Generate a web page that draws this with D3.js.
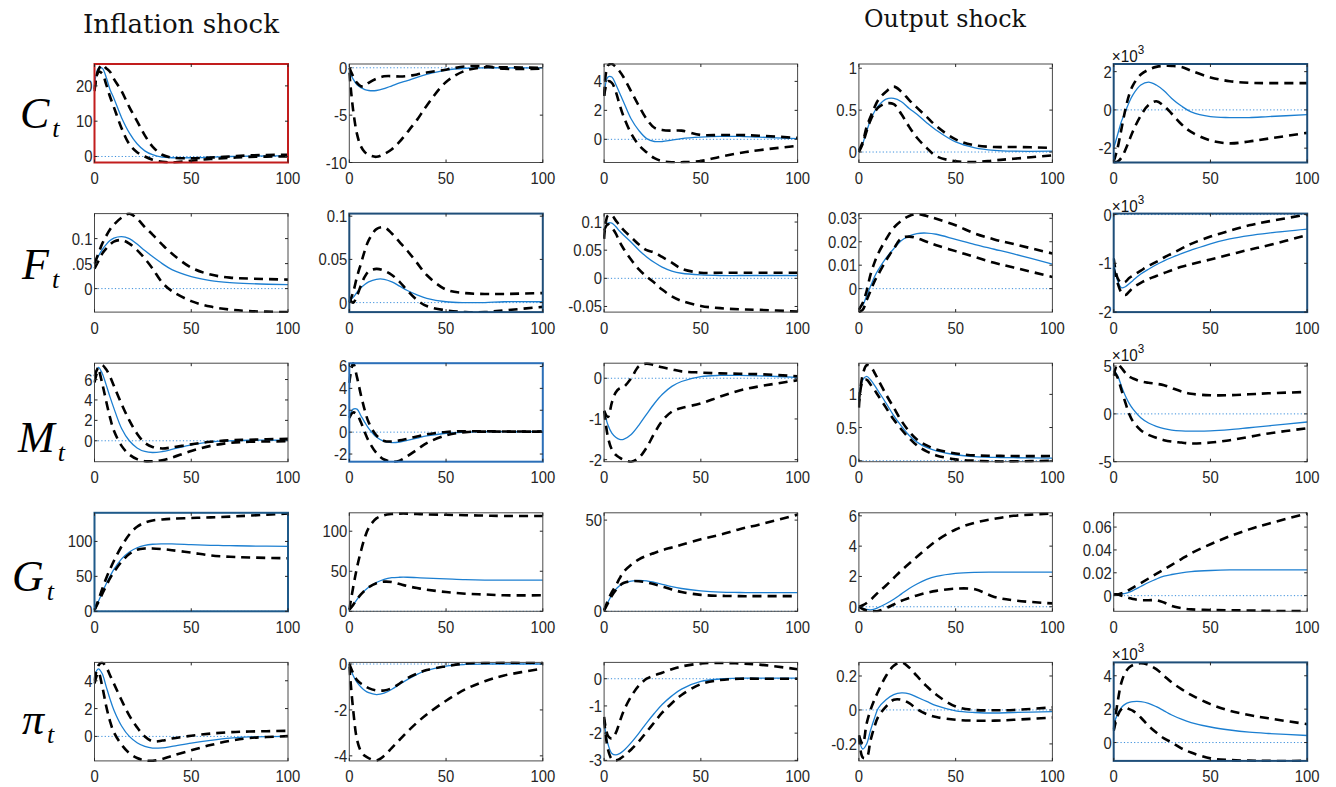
<!DOCTYPE html>
<html><head><meta charset="utf-8">
<script src="https://cdn.jsdelivr.net/npm/d3@7"></script>
<style>body{margin:0;background:#fff;} svg{display:block;}</style>
</head><body>
<svg id="chart" width="1336" height="787"></svg>
<script>
// ---------------- DATA ----------------
const X = [0,2,4,6,8,10,14,18,22,26,30,35,40,50,60,70,80,100];
const xTicks = [0, 50, 100];
const shockTitles = ["Inflation shock", "Output shock"];
const rowNames = ["C", "F", "M", "G", "π"];

const C_mid = [
 [20,25,25,22.5,19,16.5,11,6.7,3.6,1.6,0.5,-0.2,-0.35,-0.35,-0.2,0,0.1,0.2],
 [-0.3,-1.2,-1.8,-2.1,-2.3,-2.4,-2.4,-2.2,-1.9,-1.6,-1.35,-1.0,-0.7,-0.25,-0.05,0,0,0],
 [3,4.3,4.3,3.8,3.2,2.6,1.4,0.6,0.05,-0.15,-0.15,-0.05,0.05,0.15,0.2,0.2,0.15,0.05],
 [0,0.1,0.25,0.38,0.48,0.55,0.63,0.64,0.6,0.52,0.45,0.35,0.26,0.12,0.05,0.02,0.01,0.01],
 [-2.0,-1.3,-0.6,-0.1,0.4,0.8,1.3,1.45,1.3,1.0,0.6,0.2,-0.1,-0.35,-0.4,-0.4,-0.35,-0.25]
];
const C_hi = [
 [19,24.5,26,25,24,22,18.5,14,10,6,2.8,0.5,-0.3,-0.5,-0.3,0,0.3,0.5],
 [0,-0.9,-1.6,-1.95,-1.9,-1.6,-1.15,-0.9,-0.88,-0.92,-0.88,-0.7,-0.5,-0.2,0.15,0.15,-0.1,-0.1],
 [3,5.1,5.2,5.0,4.7,4.3,3.3,2.3,1.4,0.8,0.65,0.6,0.6,0.3,0.3,0.3,0.25,0.1],
 [0.02,0.12,0.3,0.42,0.53,0.62,0.72,0.78,0.72,0.62,0.53,0.42,0.31,0.15,0.08,0.06,0.06,0.05],
 [-2.7,-2.0,-1.0,0.0,0.8,1.3,1.85,2.1,2.25,2.3,2.3,2.25,2.05,1.7,1.5,1.42,1.4,1.4]
];
const C_lo = [
 [18.5,24,23.5,20.5,17,14,8,3.5,1.2,0,-0.9,-1.5,-1.7,-1.2,-0.7,-0.4,-0.1,0],
 [-0.5,-4.5,-7,-8.3,-8.9,-9.2,-9.4,-9.1,-8.6,-7.8,-6.8,-5.5,-4.0,-1.5,-0.3,0.05,0.05,0],
 [3,4.0,3.9,3.3,2.4,1.6,0.4,-0.4,-0.9,-1.3,-1.5,-1.58,-1.58,-1.5,-1.2,-0.95,-0.75,-0.45],
 [0,0.1,0.25,0.38,0.47,0.53,0.58,0.57,0.45,0.3,0.17,0.05,-0.05,-0.11,-0.12,-0.1,-0.08,-0.04],
 [-2.75,-2.7,-2.5,-2.1,-1.6,-1.1,-0.3,0.25,0.45,0.2,-0.2,-0.75,-1.15,-1.6,-1.75,-1.65,-1.5,-1.2]
];
const C_dom = [[-1.7,26.2],[-10,0.4],[-1.6,5.2],[-0.125,1.05],[-2.75,2.4]];
const C_ticks = [["0","10","20"],["-10","-5","0"],["0","2","4"],["0","0.5","1"],["-2","0","2"]];

const F_mid = [
 [0.05,0.065,0.078,0.088,0.096,0.101,0.104,0.1,0.089,0.076,0.064,0.05,0.038,0.024,0.016,0.012,0.01,0.008],
 [0.002,0.006,0.012,0.017,0.021,0.024,0.027,0.027,0.024,0.019,0.014,0.009,0.005,0.001,0,0,0.001,0.001],
 [0.085,0.098,0.098,0.092,0.084,0.077,0.064,0.05,0.038,0.028,0.02,0.013,0.009,0.006,0.005,0.005,0.005,0.005],
 [-0.008,-0.007,-0.003,0.001,0.005,0.008,0.013,0.017,0.0205,0.0225,0.0235,0.0237,0.0232,0.021,0.0188,0.0168,0.0148,0.0105],
 [-1.0,-1.35,-1.5,-1.48,-1.42,-1.35,-1.22,-1.12,-1.03,-0.95,-0.88,-0.8,-0.73,-0.6,-0.5,-0.43,-0.38,-0.3]
];
const F_hi = [
 [0.05,0.07,0.09,0.105,0.118,0.128,0.142,0.15,0.14,0.123,0.108,0.088,0.07,0.042,0.028,0.022,0.02,0.018],
 [0,0.012,0.03,0.045,0.06,0.072,0.085,0.087,0.08,0.07,0.06,0.046,0.032,0.015,0.011,0.01,0.01,0.011],
 [0.07,0.112,0.112,0.103,0.094,0.086,0.073,0.06,0.05,0.046,0.038,0.028,0.017,0.01,0.01,0.01,0.01,0.01],
 [-0.009,-0.006,-0.001,0.006,0.011,0.015,0.021,0.026,0.029,0.031,0.0318,0.031,0.0298,0.027,0.0235,0.021,0.019,0.015],
 [-0.9,-1.3,-1.4,-1.38,-1.3,-1.25,-1.15,-1.05,-0.97,-0.88,-0.8,-0.7,-0.6,-0.45,-0.33,-0.22,-0.14,0.0]
];
const F_lo = [
 [0.04,0.055,0.07,0.08,0.088,0.094,0.097,0.09,0.077,0.06,0.04,0.012,-0.005,-0.025,-0.036,-0.042,-0.045,-0.047],
 [0.004,0.0,0.008,0.02,0.03,0.036,0.039,0.037,0.032,0.024,0.014,0.003,-0.004,-0.009,-0.011,-0.011,-0.009,-0.005],
 [0.085,0.096,0.09,0.08,0.065,0.053,0.033,0.016,0.003,-0.008,-0.02,-0.032,-0.04,-0.049,-0.053,-0.055,-0.056,-0.059],
 [-0.01,-0.009,-0.005,-0.001,0.003,0.006,0.012,0.017,0.0215,0.0222,0.0215,0.02,0.0185,0.016,0.0135,0.011,0.009,0.005],
 [-1.1,-1.4,-1.6,-1.65,-1.58,-1.5,-1.4,-1.32,-1.26,-1.2,-1.14,-1.07,-1.02,-0.92,-0.82,-0.72,-0.63,-0.42]
];
const F_dom = [[-0.047,0.15],[-0.011,0.103],[-0.06,0.115],[-0.01,0.032],[-2,0.02]];
const F_ticks = [["0",".05","0.1"],["0","0.05","0.1"],["-0.05","0","0.05","0.1"],["0","0.01","0.02","0.03"],["-2","-1","0"]];

const M_mid = [
 [6.3,7.2,6.6,5.5,4.3,3.2,1.2,0.0,-0.7,-1.05,-1.15,-1.05,-0.85,-0.4,-0.1,0.0,0.05,0.05],
 [1.4,2.1,2.1,1.5,0.9,0.35,-0.45,-0.85,-0.95,-0.9,-0.75,-0.55,-0.35,-0.1,0.0,0.05,0.05,0.05],
 [-0.8,-1.15,-1.35,-1.45,-1.5,-1.5,-1.38,-1.15,-0.88,-0.62,-0.4,-0.2,-0.08,0.04,0.07,0.07,0.06,0.02],
 [1.0,1.22,1.27,1.22,1.14,1.05,0.87,0.68,0.52,0.38,0.28,0.2,0.15,0.09,0.06,0.05,0.045,0.04],
 [4.6,4.0,2.9,1.9,1.1,0.5,-0.4,-0.95,-1.3,-1.55,-1.7,-1.78,-1.8,-1.78,-1.65,-1.45,-1.25,-0.85]
];
const M_hi = [
 [6.3,7.2,7.4,7.0,6.3,5.4,3.6,2.0,0.7,-0.2,-0.6,-0.75,-0.65,-0.35,-0.1,0.05,0.1,0.2],
 [4.5,6.3,5.0,3.4,2.0,0.9,-0.3,-0.8,-0.85,-0.75,-0.6,-0.4,-0.2,0.02,0.08,0.08,0.06,0.05],
 [-0.8,-0.95,-0.6,-0.35,-0.25,-0.22,0.0,0.3,0.36,0.32,0.27,0.22,0.17,0.14,0.12,0.11,0.1,0.05],
 [0.9,1.3,1.44,1.42,1.33,1.22,1.0,0.8,0.6,0.44,0.32,0.23,0.17,0.11,0.08,0.075,0.07,0.07],
 [4.0,5.2,4.8,4.3,3.9,3.7,3.4,3.25,3.15,3.0,2.7,2.35,2.1,1.95,1.95,2.05,2.15,2.3]
];
const M_lo = [
 [5.7,6.9,5.6,3.9,2.3,1.0,-0.5,-1.35,-1.8,-2.0,-2.0,-1.9,-1.65,-1.0,-0.5,-0.2,-0.1,-0.05],
 [1.3,1.8,1.6,0.9,0.0,-0.8,-1.9,-2.5,-2.7,-2.6,-2.2,-1.6,-1.0,-0.3,0.0,0.05,0.05,0.05],
 [-0.8,-1.45,-1.75,-1.88,-1.95,-2.0,-2.05,-1.95,-1.7,-1.35,-1.05,-0.82,-0.73,-0.62,-0.45,-0.3,-0.2,-0.05],
 [0.8,1.2,1.22,1.15,1.07,0.98,0.8,0.62,0.47,0.34,0.23,0.14,0.08,0.02,0.0,-0.01,-0.01,0.0],
 [4.5,3.8,2.5,1.2,0.0,-0.8,-1.7,-2.2,-2.5,-2.75,-2.9,-3.0,-3.1,-3.0,-2.75,-2.4,-2.05,-1.5]
];
const M_dom = [[-2.05,7.6],[-2.7,6.3],[-2.05,0.37],[-0.015,1.47],[-5,5.3]];
const M_ticks = [["0","2","4","6"],["-2","0","2","4","6"],["-2","-1","0"],["0","0.5","1"],["-5","0","5"]];

const G_mid = [
 [2,14,27,39,50,60,75,85,91,94.5,96,96.5,96.5,95.5,94.5,94,93.5,93],
 [2,8,15,21,26,30,36,40,42,42.5,42.5,42,41.5,40.5,39.5,39,39,39],
 [0.5,5,9,12,14,15.3,16.5,17,16.7,15.8,14.8,13.5,12.5,11.2,10.5,10.3,10.2,10.2],
 [0,-0.1,-0.18,-0.2,-0.15,-0.05,0.2,0.5,0.85,1.2,1.5,1.8,2.0,2.2,2.27,2.28,2.28,2.28],
 [0.001,0.001,0.0015,0.002,0.003,0.0045,0.008,0.0115,0.0145,0.017,0.0185,0.02,0.021,0.022,0.0225,0.0225,0.0225,0.0225]
];
const G_hi = [
 [2,16,32,47,60,72,93,110,121,127,130,131.5,132.5,133.5,134.5,135.5,137,140],
 [2,30,55,75,92,104,116,120,121.5,122,122,121.5,121,120.5,120,119.5,119,119],
 [0.5,6,10.5,14,18,21.5,25.5,28.5,30.5,32,33.5,35,36.5,39.5,42,45,47.5,53],
 [0,0.1,0.25,0.45,0.7,0.95,1.4,1.9,2.4,2.85,3.3,3.85,4.35,5.1,5.55,5.8,6.0,6.15],
 [0.001,0.001,0.002,0.003,0.005,0.007,0.011,0.015,0.019,0.023,0.027,0.032,0.037,0.045,0.052,0.058,0.063,0.072]
];
const G_lo = [
 [2,13,25,36,47,56,71,82,88,90,90,89,87.5,84,80,78,77,76],
 [2,8,15,21,26,30,35,37,36.5,34,31.5,29,27,24,22,21,20,20],
 [0.5,4.5,8.5,11.5,14,15.5,16.5,16.5,15.8,14.8,13.6,12,10.6,9,8.5,8.3,8.3,8.3],
 [0,-0.15,-0.25,-0.3,-0.3,-0.28,-0.1,0.15,0.4,0.58,0.75,0.92,1.05,1.2,1.15,0.65,0.42,0.22],
 [0.001,0.001,0.0,-0.001,-0.002,-0.003,-0.004,-0.004,-0.004,-0.006,-0.009,-0.011,-0.012,-0.0125,-0.0128,-0.013,-0.0133,-0.0136]
];
const G_dom = [[0,141],[0,123],[0,54],[-0.3,6.2],[-0.0137,0.0725]];
const G_ticks = [["0","50","100"],["0","50","100"],["0","50"],["0","2","4","6"],["0","0.02","0.04","0.06"]];

const P_mid = [
 [4.4,4.85,4.5,3.6,2.7,1.9,0.75,0.0,-0.45,-0.72,-0.84,-0.82,-0.72,-0.48,-0.28,-0.12,-0.04,0.0],
 [-0.05,-0.5,-0.8,-1.0,-1.15,-1.25,-1.33,-1.27,-1.1,-0.88,-0.68,-0.45,-0.28,-0.09,-0.02,0.0,0.0,0.0],
 [-1.6,-2.4,-2.75,-2.8,-2.75,-2.65,-2.35,-2.0,-1.62,-1.27,-0.95,-0.63,-0.38,-0.1,-0.01,0.02,0.02,0.02],
 [-0.17,-0.23,-0.2,-0.12,-0.05,0.01,0.06,0.09,0.1,0.095,0.075,0.05,0.025,-0.005,-0.015,-0.018,-0.015,-0.01],
 [1.1,1.7,2.1,2.3,2.4,2.45,2.45,2.35,2.15,1.9,1.65,1.4,1.2,0.93,0.75,0.62,0.54,0.42]
];
const P_hi = [
 [4.0,5.1,5.3,5.0,4.4,3.8,2.6,1.5,0.65,0.0,-0.35,-0.3,-0.15,0.05,0.2,0.3,0.35,0.4],
 [0,-0.4,-0.7,-0.85,-0.95,-1.05,-1.15,-1.15,-1.05,-0.85,-0.62,-0.42,-0.26,-0.1,0.02,0.05,0.06,0.05],
 [-1.4,-2.1,-2.2,-2.0,-1.6,-1.2,-0.65,-0.25,0.0,0.12,0.22,0.35,0.45,0.56,0.58,0.56,0.52,0.35],
 [-0.15,-0.2,-0.08,0.0,0.06,0.11,0.2,0.26,0.28,0.25,0.2,0.14,0.09,0.02,0.0,-0.002,0.0,0.015],
 [0.8,2.4,3.6,4.2,4.5,4.65,4.75,4.65,4.4,4.0,3.6,3.2,2.85,2.3,1.9,1.65,1.45,1.1]
];
const P_lo = [
 [3.8,4.6,3.6,2.2,1.1,0.3,-0.6,-1.2,-1.55,-1.72,-1.75,-1.62,-1.4,-1.0,-0.62,-0.32,-0.12,0.02],
 [-0.1,-2.0,-3.3,-3.8,-4.0,-4.1,-4.2,-4.0,-3.65,-3.3,-2.95,-2.55,-2.2,-1.6,-1.1,-0.75,-0.5,-0.2],
 [-1.5,-2.6,-2.95,-3.0,-2.95,-2.85,-2.6,-2.3,-1.95,-1.6,-1.25,-0.9,-0.6,-0.2,-0.05,0.0,0.0,0.0],
 [-0.15,-0.28,-0.28,-0.18,-0.1,-0.04,0.02,0.06,0.06,0.04,0.005,-0.025,-0.042,-0.058,-0.063,-0.063,-0.058,-0.045],
 [0.7,1.6,2.0,2.1,2.0,1.9,1.5,1.0,0.6,0.25,0.0,-0.35,-0.6,-0.95,-1.05,-1.08,-1.1,-1.1]
];
const P_dom = [[-1.76,5.32],[-4.22,0.07],[-3.02,0.6],[-0.3,0.28],[-1.1,4.8]];
const P_ticks = [["0","2","4"],["-4","-2","0"],["-3","-2","-1","0"],["-0.2","0","0.2"],["0","2","4"]];

// panels whose values are shown in units of 10^-3
const expPanels = ["0,4", "1,4", "2,4", "4,4"];

// ---------------- STYLE / LAYOUT ----------------
const frameColors = {"0,0":"#c21d1d","0,4":"#1f4e79","1,1":"#1f4e79","1,4":"#1f4e79",
                     "2,1":"#2b6fb8","3,0":"#1f5a8a","4,4":"#1f4e79"};
const colLeft = c => 94.5 + 254.8 * c;
const rowTop  = r => 64 + 149.6 * r;
const PW = 193.5, PH = 98.5;
const axisCol = "#262626";
const blueCol = "#1c7fd1";
const tickFont = "'Liberation Sans', Arial, sans-serif";

const rows = [
  {mid:C_mid, lo:C_lo, hi:C_hi, dom:C_dom, ticks:C_ticks},
  {mid:F_mid, lo:F_lo, hi:F_hi, dom:F_dom, ticks:F_ticks},
  {mid:M_mid, lo:M_lo, hi:M_hi, dom:M_dom, ticks:M_ticks},
  {mid:G_mid, lo:G_lo, hi:G_hi, dom:G_dom, ticks:G_ticks},
  {mid:P_mid, lo:P_lo, hi:P_hi, dom:P_dom, ticks:P_ticks}
];

const svg = d3.select("#chart");
const defs = svg.append("defs");

function label(g, x, y, txt, anchor, size) {
  g.append("text")
    .attr("transform", `translate(${x},${y}) scale(0.9,1)`)
    .attr("text-anchor", anchor)
    .attr("font-family", tickFont)
    .attr("font-size", size || 16.5)
    .attr("fill", axisCol)
    .text(txt);
}

// titles
svg.append("text").attr("x", 83).attr("y", 33)
  .attr("font-family", "'DejaVu Serif', serif").attr("font-size", 25.5)
  .attr("fill", "#111").attr("textLength", 196).attr("lengthAdjust", "spacingAndGlyphs")
  .text(shockTitles[0]);
svg.append("text").attr("x", 864).attr("y", 27)
  .attr("font-family", "'DejaVu Serif', serif").attr("font-size", 24)
  .attr("fill", "#111").attr("textLength", 162).attr("lengthAdjust", "spacingAndGlyphs")
  .text(shockTitles[1]);

// row labels
const rowLabelPos = [[20,128],[22,279],[18,452],[12,591],[22,734]];
rowNames.forEach((n, r) => {
  const t = svg.append("text").attr("x", rowLabelPos[r][0]).attr("y", rowLabelPos[r][1])
    .attr("font-family", "'Liberation Serif', 'Times New Roman', serif")
    .attr("font-style", "italic").attr("font-size", 44).attr("fill", "#000");
  t.append("tspan").text(n);
  t.append("tspan").attr("font-size", 26).attr("dy", 9).attr("dx", 3).text("t");
});

const x = d3.scaleLinear().domain([0, 100]);

rows.forEach((R, r) => {
  for (let c = 0; c < 5; c++) {
    const L = colLeft(c), T = rowTop(r);
    const key = r + "," + c;
    x.range([L, L + PW]);
    const y = d3.scaleLinear().domain(R.dom[c]).range([T + PH, T]);
    const g = svg.append("g");
    const clipId = "clip" + r + "_" + c;
    defs.append("clipPath").attr("id", clipId).append("rect")
      .attr("x", L - 1).attr("y", T - 1).attr("width", PW + 2).attr("height", PH + 2);
    const pg = g.append("g").attr("clip-path", `url(#${clipId})`);

    // zero line
    const d0 = R.dom[c];
    if (0 >= d0[0] && 0 <= d0[1]) {
      pg.append("line").attr("x1", L).attr("x2", L + PW)
        .attr("y1", y(0)).attr("y2", y(0))
        .attr("stroke", "#3b8fdc").attr("stroke-width", 1)
        .attr("stroke-dasharray", "1.2,2.2");
    }
    const line = d3.line().x((d, i) => x(X[i])).y(d => y(d))
      .curve(d3.curveCatmullRom.alpha(0.5));
    pg.append("path").attr("d", line(R.mid[c])).attr("fill", "none")
      .attr("stroke", blueCol).attr("stroke-width", 1.3);
    [R.hi[c], R.lo[c]].forEach(arr => {
      pg.append("path").attr("d", line(arr)).attr("fill", "none")
        .attr("stroke", "#000").attr("stroke-width", 2.6)
        .attr("stroke-dasharray", "9,6");
    });

    // frame
    const fc = frameColors[key];
    g.append("rect").attr("x", L).attr("y", T).attr("width", PW).attr("height", PH)
      .attr("fill", "none").attr("stroke", fc || "#4a4a4a")
      .attr("stroke-width", fc ? 2 : 1);

    // x ticks
    xTicks.forEach(v => {
      const px = x(v);
      g.append("line").attr("x1", px).attr("x2", px).attr("y1", T + PH).attr("y2", T + PH - 3)
        .attr("stroke", axisCol).attr("stroke-width", 1);
      g.append("line").attr("x1", px).attr("x2", px).attr("y1", T).attr("y2", T + 3)
        .attr("stroke", axisCol).attr("stroke-width", 1);
      label(g, px, T + PH + 21.5, String(v), "middle");
    });
    // y ticks
    R.ticks[c].forEach(s => {
      const py = y(+s);
      g.append("line").attr("x1", L).attr("x2", L + 3).attr("y1", py).attr("y2", py)
        .attr("stroke", axisCol).attr("stroke-width", 1);
      g.append("line").attr("x1", L + PW).attr("x2", L + PW - 3).attr("y1", py).attr("y2", py)
        .attr("stroke", axisCol).attr("stroke-width", 1);
      label(g, L - 2, py + 6, s, "end");
    });
    // exponent
    if (expPanels.includes(key)) {
      const t = g.append("text")
        .attr("transform", `translate(${L - 2},${T - 2}) scale(0.9,1)`)
        .attr("font-family", tickFont).attr("font-size", 17).attr("fill", "#111");
      t.append("tspan").text("×10");
      t.append("tspan").attr("font-size", 13).attr("dy", -8).text("3");
    }
  }
});
</script>
</body></html>
